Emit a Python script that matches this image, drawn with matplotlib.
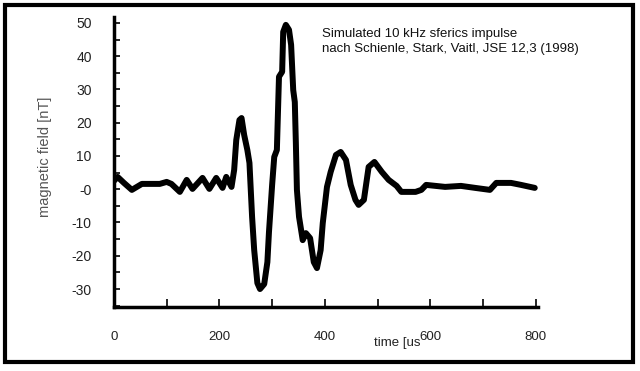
import matplotlib.pyplot as plt
from matplotlib.patches import Rectangle

plt.rcParams['font.family'] = ['Liberation Sans', 'DejaVu Sans']

# traced sferics impulse (time in us, field in nT)
time_us = [0, 7, 19, 34, 53, 87, 100, 109, 125, 138, 149, 168, 181, 194, 206, 213,
           223, 228, 232, 238, 242, 247, 253, 257, 262, 266, 272, 277, 285, 291, 294,
           300, 304, 309, 313, 319, 321, 326, 332, 336, 340, 343, 345, 347, 351, 358,
           364, 372, 379, 385, 392, 396, 404, 411, 421, 430, 440, 449, 458, 464, 474,
           483, 494, 508, 521, 536, 545, 572, 583, 592, 628, 658, 685, 713, 725, 753,
           772, 798]
field_nT = [2.5, 3.7, 1.9, -0.2, 1.6, 1.6, 2.2, 1.6, -0.8, 2.8, 0.1, 3.4, 0.1, 3.4, 0.4, 3.7,
            0.7, 5.8, 14.8, 20.8, 21.4, 16.3, 11.8, 7.9, -8.3, -18.3, -28.2, -30.0, -28.5, -21.9, -12.9,
            1.3, 9.7, 11.8, 33.8, 35.3, 47.3, 49.4, 47.9, 43.4, 29.8, 26.2, 13.9, -0.2, -8.3, -15.3,
            -13.2, -14.7, -21.9, -23.7, -18.3, -10.2, 0.7, 5.2, 10.3, 11.2, 8.8, 1.3, -3.2, -4.7, -3.2,
            6.7, 8.2, 5.2, 2.8, 1.0, -0.8, -0.8, -0.2, 1.3, 0.7, 1.0, 0.4, -0.2, 1.9, 1.9,
            1.3, 0.4]

y_ticks = [-30, -20, -10, 0, 10, 20, 30, 40, 50]
y_labels = ['-30', '-20', '-10', '-0', '10', '20', '30', '40', '50']
x_ticks = [0, 200, 400, 600, 800]

fig = plt.figure(figsize=(6.4, 3.71), dpi=100)
ax = fig.add_axes([0.178, 0.1725, 0.6625, 0.782])

ax.plot(time_us, field_nT, color='black', lw=4.3, solid_joinstyle='round',
        solid_capstyle='round')

ax.set_xlim(0, 804)
ax.set_ylim(-35.4, 51.8)
ax.spines['top'].set_visible(False)
ax.spines['right'].set_visible(False)
for s in ['left', 'bottom']:
    ax.spines[s].set_linewidth(2.5)

ax.set_xticks(x_ticks)
ax.set_xticks(range(100, 800, 200), minor=True)
ax.set_yticks(y_ticks, y_labels)
ax.set_yticks(range(-35, 50, 10), minor=True)
ax.tick_params(axis='x', which='both', direction='in', length=6, width=1.2,
               pad=17, labelsize=9.5, labelcolor='#222222')
ax.tick_params(axis='y', which='both', direction='in', length=4, width=1.2,
               pad=16, labelsize=10, labelcolor='#222222')

fig.text(397 / 640, 1 - 343 / 371, 'time [us', ha='center', va='center',
         fontsize=9.5, color='#222222')
fig.text(45 / 640, 1 - 157 / 371, 'magnetic field [nT]', rotation=90,
         ha='center', va='center', fontsize=10.5, color='#555555')

ax.text(0.49, 0.915, 'Simulated 10 kHz sferics impulse\nnach Schienle, Stark, Vaitl, JSE 12,3 (1998)',
        transform=ax.transAxes, ha='left', va='center', fontsize=9.5,
        color='#111111', linespacing=1.35)

fig.patches.append(Rectangle((5 / 640, 9 / 371), 628 / 640, 357 / 371,
                             transform=fig.transFigure, fill=False,
                             edgecolor='black', lw=3))

fig.savefig('out.png', dpi=100)
